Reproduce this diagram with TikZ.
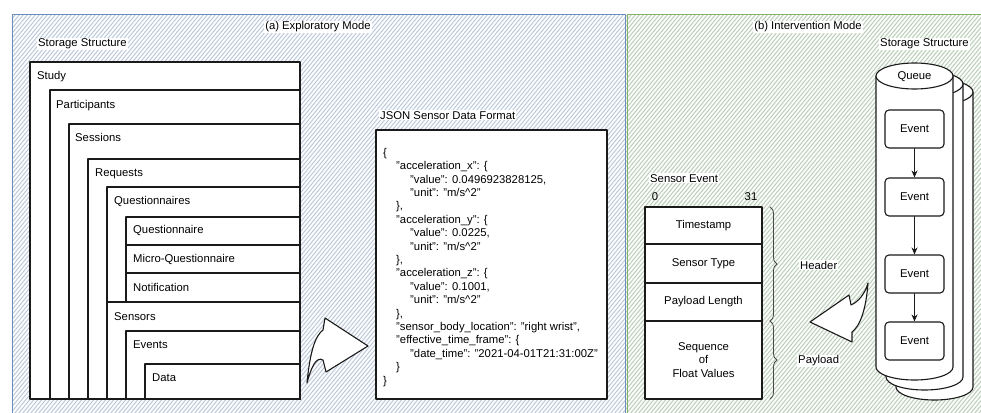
\documentclass[tikz,border=0pt]{standalone}
\usepackage{fontspec}
\setmainfont{Liberation Sans}
\usetikzlibrary{arrows.meta,decorations.pathreplacing}
\definecolor{bluefill}{HTML}{E3EAF5}
\definecolor{blueline}{HTML}{6C8EBF}
\definecolor{bluehatch}{HTML}{A9B4C4}
\definecolor{greenfill}{HTML}{DFECDE}
\definecolor{greenline}{HTML}{82B366}
\definecolor{greenhatch}{HTML}{A9BBA8}
\definecolor{ink}{HTML}{1A1A1A}
\tikzset{
  box/.style={draw=ink, fill=white, line width=1.1pt},
  lab/.style={anchor=base west, inner sep=0pt},
  title/.style={fill=white, inner sep=1pt},
  eventbox/.style={draw=ink, fill=white, line width=1.1pt, rounded corners=4pt, minimum width=59pt, minimum height=38pt},
  bracket/.style={decorate, decoration={brace, amplitude=7pt}, draw=ink!80, line width=0.8pt},
  flexarrow/.style={draw=ink, fill=white, line width=1.1pt},
}
\begin{document}
\begin{tikzpicture}[x=1pt, y=-1pt, font=\fontsize{11.3}{13.4}\selectfont, line join=round, line cap=round, >=Stealth]
	\useasboundingbox (0,0) rectangle (981,412);
	% panel backgrounds
	\fill[bluefill] (12,15) rectangle (626,414);
	\begin{scope}
		\clip (12,15) rectangle (626,414);
		\foreach \i in {-420,-416,...,640} {
			\draw[white, line width=1.2pt] (\i,414) -- ++(330,-400);
			\draw[bluehatch, line width=0.35pt] (\i+2,414) -- ++(330,-400);
		}
	\end{scope}
	\fill[greenfill] (626,15) rectangle (983,414);
	\begin{scope}
		\clip (626,15) rectangle (983,414);
		\foreach \i in {280,284,...,990} {
			\draw[white, line width=1.2pt] (\i,414) -- ++(330,-400);
			\draw[greenhatch, line width=0.35pt] (\i+2,414) -- ++(330,-400);
		}
	\end{scope}
	\draw[blueline, line width=1pt] (12,414) -- (12,15) -- (625,15) -- (625,414);
	\draw[greenline, line width=1pt] (627,414) -- (627,15) -- (983,15);
	\node[title] (amode) at (318,27) {(a) Exploratory Mode};
	\node[title] (bmode) at (808,27) {(b) Intervention Mode};

	% (a) storage structure
	\node[title, anchor=base west] (storea) at (37,47) {Storage Structure};
	\draw[box] (30,62) rectangle (300,399);
	\node[lab] (study) at (37,79) {Study};
	\draw[box] (50,90) rectangle (300,399);
	\node[lab] (participants) at (56,108) {Participants};
	\draw[box] (69,124) rectangle (300,399);
	\node[lab] (sessions) at (75,141) {Sessions};
	\draw[box] (88,159) rectangle (300,399);
	\node[lab] (requests) at (95,176) {Requests};
	\draw[box] (107,187) rectangle (300,302);
	\node[lab] (questionnaires) at (114,204) {Questionnaires};
	\draw[box] (126,217) rectangle (300,245);
	\node[lab] (questionnaire) at (133,233) {Questionnaire};
	\draw[box] (126,245) rectangle (300,273);
	\node[lab] (microq) at (133,262) {Micro-Questionnaire};
	\draw[box] (126,273) rectangle (300,302);
	\node[lab] (notification) at (133,291) {Notification};
	\draw[box] (107,302) rectangle (300,399);
	\node[lab] (sensors) at (114,320) {Sensors};
	\draw[box] (126,331) rectangle (300,399);
	\node[lab] (events) at (133,348) {Events};
	\draw[box] (145,364) rectangle (300,399);
	\node[lab] (data) at (152,381) {Data};

	% arrow to json
	\draw[flexarrow] (307,383) .. controls (310,352) and (315,336) .. (323,330) -- (325,318) -- (368,346) -- (326,372)
		-- (323,360) .. controls (316,356) and (311,368) .. (307,383) -- cycle;

	% json format
	\node[title, anchor=base west] (jsontitle) at (379,119) {JSON Sensor Data Format};
	\draw[box] (376,130) rectangle (607,399);
	\node[anchor=north west, align=left, inner sep=0pt] (json) at (383,148) {\{\\
		\hspace*{13pt}"acceleration\_x": \{\\
		\hspace*{27pt}"value": 0.0496923828125,\\
		\hspace*{27pt}"unit": "m/s\textasciicircum 2"\\
		\hspace*{13pt}\},\\
		\hspace*{13pt}"acceleration\_y": \{\\
		\hspace*{27pt}"value": 0.0225,\\
		\hspace*{27pt}"unit": "m/s\textasciicircum 2"\\
		\hspace*{13pt}\},\\
		\hspace*{13pt}"acceleration\_z": \{\\
		\hspace*{27pt}"value": 0.1001,\\
		\hspace*{27pt}"unit": "m/s\textasciicircum 2"\\
		\hspace*{13pt}\},\\
		\hspace*{13pt}"sensor\_body\_location": "right wrist",\\
		\hspace*{13pt}"effective\_time\_frame": \{\\
		\hspace*{27pt}"date\_time": "2021-04-01T21:31:00Z"\\
		\hspace*{13pt}\}\\
		\}};

	% (b) sensor event
	\node[title, anchor=base west] (sevent) at (649,182) {Sensor Event};
	\node (bit0) at (655,197) {0};
	\node (bit31) at (751,197) {31};
	\draw[box] (645,207) rectangle (762,244);
	\node (timestamp) at (703.5,225.5) {Timestamp};
	\draw[box] (645,244) rectangle (762,283);
	\node (stype) at (703.5,263.5) {Sensor Type};
	\draw[box] (645,283) rectangle (762,321);
	\node (plength) at (703.5,302) {Payload Length};
	\draw[box] (645,321) rectangle (762,399);
	\node[align=center] (payloadval) at (703.5,360) {Sequence\\of\\Float Values};
	\draw[bracket] (770,207) -- (770,321);
	\draw[bracket] (770,321) -- (770,399);
	\node[title, anchor=west] (header) at (799,265) {Header};
	\node[title, anchor=west] (payload) at (797,361) {Payload};

	% arrow from queue
	\draw[flexarrow] (868,283) .. controls (866,310) and (860,326) .. (852,332) -- (852,342) -- (810,322) -- (849,295)
		-- (851,305) .. controls (858,302) and (865,294) .. (868,283) -- cycle;

	% queue storage
	\node[title, anchor=base west] (storeb) at (879,47) {Storage Structure};
	\filldraw[box] (896,92) -- (896,387) .. controls (896,394.2) and (913.2,400) .. (934.5,400)
		.. controls (955.8,400) and (973,394.2) .. (973,387) -- (973,92) -- cycle;
	\filldraw[box] (934.5,92) ellipse [x radius=38.5, y radius=13];
	\filldraw[box] (886,84) -- (886,377) .. controls (886,384.2) and (903.2,390) .. (924.5,390)
		.. controls (945.8,390) and (963,384.2) .. (963,377) -- (963,84) -- cycle;
	\filldraw[box] (924.5,84) ellipse [x radius=38.5, y radius=13];
	\filldraw[box] (876,76) -- (876,367) .. controls (876,374.2) and (893.2,380) .. (914.5,380)
		.. controls (935.8,380) and (953,374.2) .. (953,367) -- (953,76) -- cycle;
	\filldraw[box] (914.5,76) ellipse [x radius=38.5, y radius=13];
	\node (queue) at (914.5,77) {Queue};
	\node[eventbox] (ev1) at (914.5,129) {Event};
	\node[eventbox] (ev2) at (914.5,197) {Event};
	\node[eventbox] (ev3) at (914.5,274) {Event};
	\node[eventbox] (ev4) at (914.5,341) {Event};
	\draw[-{Stealth[length=7pt,width=6pt]}, ink, line width=0.9pt] (ev1) -- (ev2);
	\draw[-{Stealth[length=7pt,width=6pt]}, ink, line width=0.9pt] (ev2) -- (ev3);
	\draw[-{Stealth[length=7pt,width=6pt]}, ink, line width=0.9pt] (ev3) -- (ev4);
\end{tikzpicture}
\end{document}
